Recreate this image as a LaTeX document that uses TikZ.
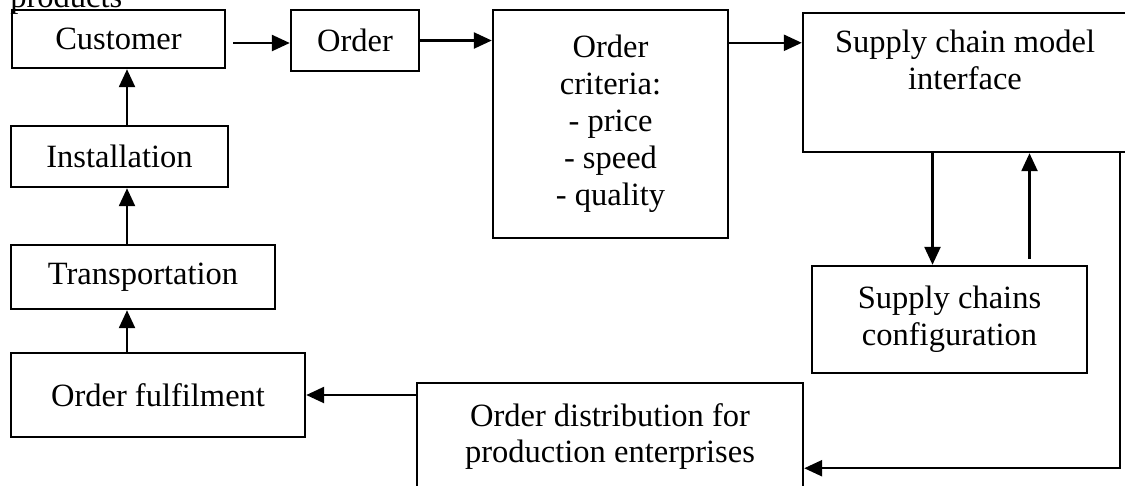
\documentclass[tikz,border=0pt]{standalone}
\usepackage{fontspec}
\setmainfont{Liberation Serif}
\usepackage{tikz}
\usetikzlibrary{arrows.meta,calc}

\begin{document}
\begin{tikzpicture}[
    x=0.02cm, y=-0.02cm,
    every node/.style={font=\fontsize{18.5}{21}\selectfont, inner sep=0pt},
    box/.style={draw, line width=1.4pt, align=center},
    arr/.style={line width=1.4pt, -{Triangle[length=0.36cm, width=0.32cm]}}
]
\useasboundingbox (0,0) rectangle (1125,485);
\node[anchor=base west] (products) at (10,7) {products};
\node[box, minimum width=4.26cm, minimum height=1.16cm] (customer) at (118.5,39) {Customer};
\node[box, minimum width=2.56cm, minimum height=1.22cm] (order) at (355,40.5) {Order};
\node[box, minimum width=4.7cm, minimum height=4.56cm] (criteria) at (610.5,124)
    {Order\\criteria:\\- price\\- speed\\- quality};
\node[box, minimum width=6.48cm, minimum height=2.78cm] (model) at (965,82.5) {};
\node[align=center, anchor=north] (modeltext) at ($(model.north)+(0,18)$) {Supply chain model\\interface};
\node[box, minimum width=5.5cm, minimum height=2.14cm] (config) at (949.5,319.5) {Supply chains\\configuration};
\node[box, minimum width=7.72cm, minimum height=2.14cm] (distrib) at (610,436.5) {Order distribution for\\production enterprises};
\node[box, minimum width=5.88cm, minimum height=1.68cm] (fulfil) at (158,395) {Order fulfilment};
\node[box, minimum width=5.28cm, minimum height=1.28cm] (transport) at (143,277) {Transportation};
\node[box, minimum width=4.34cm, minimum height=1.22cm] (install) at (119.5,156.5) {Installation};

\coordinate (col) at (127,0);
\coordinate (dn) at ($(config.north)+(-17,0)$);
\coordinate (up) at ($(config.north)+(80,-6)$);
\coordinate (corner) at (1120,152);

\draw[arr] ($(customer.east)+(7,4)$) -- ($(customer.east -| order.west)+(0,4)$);
\draw[arr] (order.east) -- (order.east -| criteria.west);
\draw[arr] ($(criteria.north east)+(0,34)$) -- ($(criteria.north east -| model.west)+(0,34)$);
\draw[arr] (dn |- model.south) -- (dn);
\draw[arr] (up) -- (up |- model.south);
\draw[arr] (corner) |- ($(distrib.south east)+(0,-23)$);
\draw[arr] (fulfil.east -| distrib.west) -- (fulfil.east);
\draw[arr] (col |- fulfil.north) -- (col |- transport.south);
\draw[arr] (col |- transport.north) -- (col |- install.south);
\draw[arr] (col |- install.north) -- (col |- customer.south);
\end{tikzpicture}
\end{document}
